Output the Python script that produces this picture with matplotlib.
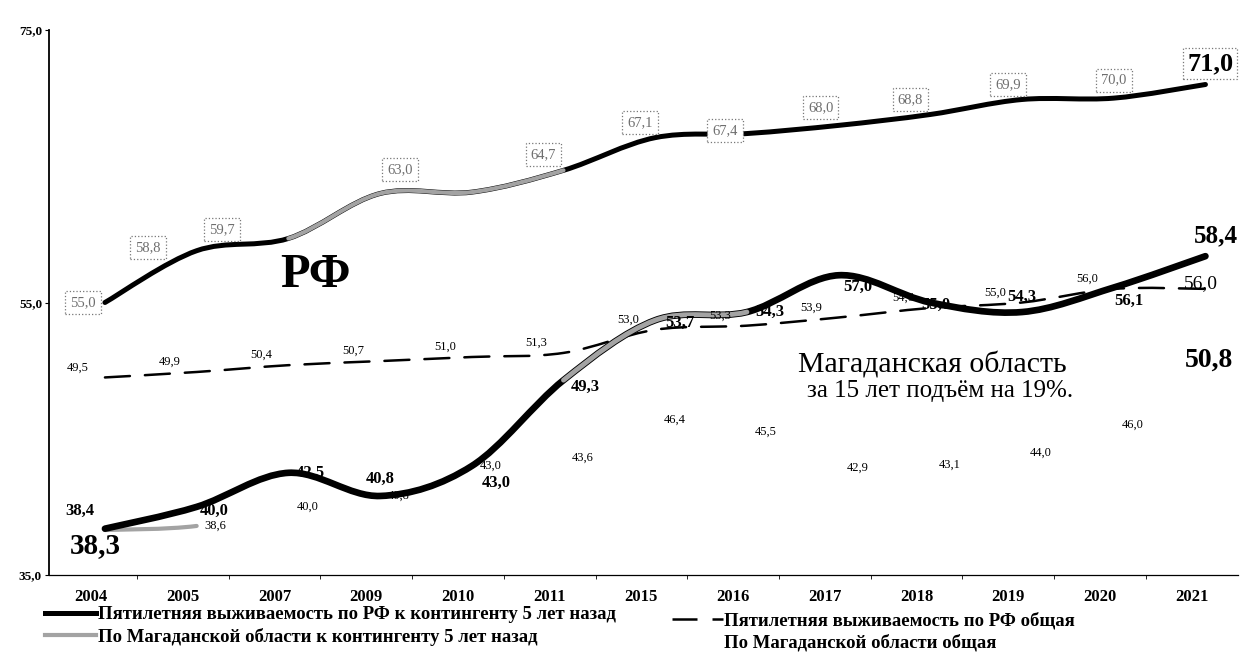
import numpy as np
import matplotlib.pyplot as plt
from matplotlib.path import Path
from matplotlib.patches import PathPatch
from matplotlib.lines import Line2D

plt.rcParams['font.family'] = ['Liberation Serif', 'DejaVu Serif']

years = ['2004', '2005', '2007', '2009', '2010', '2011', '2015', '2016',
         '2017', '2018', '2019', '2020', '2021']
rf_cont = [55.0, 58.8, 59.7, 63.0, 63.1, 64.7, 67.1, 67.4, 68.0, 68.8, 69.9, 70.0, 71.0]
mag_cont = [38.4, 40.0, 42.5, 40.8, 43.0, 49.3, 53.7, 54.3, 57.0, 55.0, 54.3, 56.1, 58.4]
rf_total = [49.5, 49.9, 50.4, 50.7, 51.0, 51.3, 53.0, 53.3, 53.9, 54.6, 55.0, 56.0, 56.0]
mag_total = [38.3, 38.6, 40.0, 40.8, 43.0, 43.6, 46.4, 45.5, 42.9, 43.1, 44.0, 46.0, 50.8]

leg_labels = ['Пятилетняя выживаемость по РФ к контингенту 5 лет назад',
              'По Магаданской области к контингенту 5 лет назад',
              'Пятилетняя выживаемость по РФ общая',
              'По Магаданской области общая']

# label offsets in pixels (dx, dy up)
top_off = [(-22, 0), (-49, 3), (-66, 9), (20, 24), None, (-20, 16), (-15, 15),
           (-22, 3), (-18, 18), (-20, 15), (-14, 15), (0, 18), (5, 21)]
low_off = [(-25, 18), (18, -4), (22, 0), (0, 17), (24, -17), (22, -7), (25, -3),
           (23, 0), (19, -12), (5, -2), (0, 15), (15, -13), (10, 20)]

x = np.arange(len(years))
PX = 0.72


def fmt(v):
    return f'{v:.1f}'.replace('.', ',')


def smooth(xs, ys, i0, i1):
    p = np.column_stack([xs, ys]).astype(float)
    n = len(p)
    verts, codes = [p[i0]], [Path.MOVETO]
    for i in range(i0, i1):
        a, b, c, d = p[max(i - 1, 0)], p[i], p[i + 1], p[min(i + 2, n - 1)]
        verts += [b + (c - a) / 6, c - (d - b) / 6, c]
        codes += [Path.CURVE4] * 3
    return Path(verts, codes)


def curve(ax, ys, i0, i1, **kw):
    ax.add_patch(PathPatch(smooth(x, ys, i0, i1), fill=False,
                           capstyle='round', joinstyle='round', **kw))


fig = plt.figure(figsize=(12.45, 6.57), dpi=100)
ax = fig.add_axes([49 / 1245, 82 / 657, 1189 / 1245, 545 / 657])

gray = '#a3a3a3'
curve(ax, rf_cont, 0, 12, ec='black', lw=3.6, zorder=3)
curve(ax, rf_cont, 2, 5, ec=gray, lw=3.0, zorder=3.1)
curve(ax, mag_cont, 0, 12, ec='black', lw=4.8, zorder=3)
curve(ax, mag_cont, 5, 7, ec=gray, lw=3.5, zorder=3.1)
curve(ax, rf_total, 0, 12, ec='black', lw=1.8, linestyle=(0, (10, 6)), zorder=2)
curve(ax, mag_total, 0, 1, ec=gray, lw=3.0, zorder=2)

# labels
for i, v in enumerate(rf_cont):
    if top_off[i] is None:
        continue
    dx, dy = top_off[i]
    last = i == len(rf_cont) - 1
    ax.annotate(fmt(v), (x[i], v), xytext=(dx * PX, dy * PX), textcoords='offset points',
                ha='center', va='center', zorder=5,
                fontsize=19 if last else 10.5, fontweight='bold' if last else 'normal',
                color='black' if last else '#6e6e6e',
                bbox=dict(boxstyle='square,pad=0.35' if not last else 'square,pad=0.15',
                          fc='white', ec='#777777', ls=':', lw=0.9))

for i, v in enumerate(mag_cont):
    dx, dy = low_off[i]
    last = i == len(mag_cont) - 1
    ax.annotate(fmt(v), (x[i], v), xytext=(dx * PX, dy * PX), textcoords='offset points',
                ha='center', va='center', zorder=5, fontweight='bold',
                fontsize=18 if last else 12)

for i, v in enumerate(rf_total):
    last = i == len(rf_total) - 1
    dx, dy = (-5, 5) if last else (-27, 10)
    ax.annotate(fmt(v), (x[i], v), xytext=(dx * PX, dy * PX), textcoords='offset points',
                ha='center', va='center', zorder=5, fontsize=14 if last else 9)

for i, v in enumerate(mag_total):
    if i == 0:
        dx, dy, fs, fw = -10, -16, 21, 'bold'
    elif i == len(mag_total) - 1:
        dx, dy, fs, fw = 3, 0, 20, 'bold'
    else:
        dx, dy, fs, fw = 19, 0, 9, 'normal'
    ax.annotate(fmt(v), (x[i], v), xytext=(dx * PX, dy * PX), textcoords='offset points',
                ha='center', va='center', zorder=5, fontsize=fs, fontweight=fw)

ax.set_xlim(-0.61, 12.355)
ax.set_ylim(35, 75)
ax.set_yticks([35, 55, 75], ['35,0', '55,0', '75,0'])
ax.set_xticks(x - 0.15, years)
ax.set_xticks(x[:-1] + 0.35, minor=True)
ax.tick_params(axis='x', which='major', length=0, pad=10, labelsize=12)
ax.tick_params(axis='x', which='minor', length=3, direction='out')
ax.tick_params(axis='y', length=3, pad=2, labelsize=9.5)
for lab in ax.get_xticklabels() + ax.get_yticklabels():
    lab.set_fontweight('bold')
ax.spines[['top', 'right']].set_visible(False)
ax.spines['left'].set_linewidth(1.3)
ax.spines['bottom'].set_linewidth(0.9)

fig.text(315 / 1245, 1 - 275 / 657, 'РФ', fontsize=35, fontweight='bold',
         ha='center', va='center')
fig.text(932 / 1245, 1 - 365 / 657, 'Магаданская область', fontsize=21.5,
         ha='center', va='center')
fig.text(940 / 1245, 1 - 391 / 657, 'за 15 лет подъём на 19%.', fontsize=18,
         ha='center', va='center')

h = [Line2D([], [], color='black', lw=3.6),
     Line2D([], [], color=gray, lw=3.0),
     Line2D([], [], color='black', lw=1.8, dashes=(10, 6)),
     Line2D([], [], color='none')]
legkw = dict(loc='upper left', frameon=False, handlelength=2.7, handletextpad=0.1,
             labelspacing=0.25, borderpad=0, borderaxespad=0,
             prop=dict(size=13.5, weight='bold'))
fig.legend(handles=h[:2], labels=leg_labels[:2], bbox_to_anchor=(45 / 1245, 1 - 606 / 657), **legkw)
fig.legend(handles=h[2:], labels=leg_labels[2:], bbox_to_anchor=(672 / 1245, 1 - 612 / 657), **legkw)

fig.savefig('out.png', dpi=100)
